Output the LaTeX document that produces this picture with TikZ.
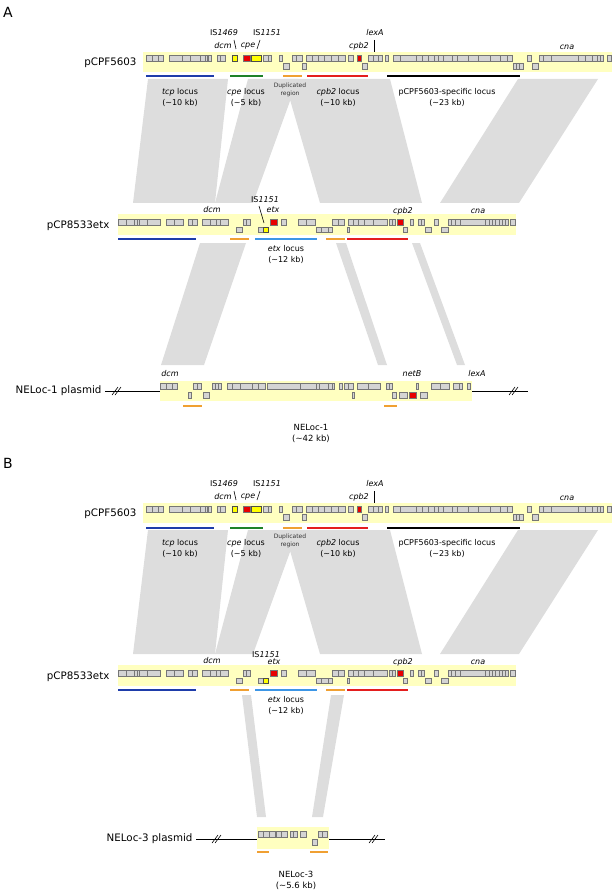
\documentclass[tikz,border=0pt]{standalone}
\usepackage{fontspec}
\setmainfont{DejaVu Sans}
\definecolor{bandyellow}{RGB}{255,255,192}
\definecolor{genegray}{RGB}{212,212,212}
\definecolor{geneline}{RGB}{118,118,118}
\definecolor{ribbon}{RGB}{221,221,221}
\definecolor{locblue}{RGB}{30,60,170}
\definecolor{locgreen}{RGB}{30,130,40}
\definecolor{locorange}{RGB}{240,160,50}
\definecolor{locred}{RGB}{228,30,30}
\definecolor{loclight}{RGB}{60,150,230}
\definecolor{toxred}{RGB}{232,0,0}
\definecolor{isyellow}{RGB}{255,255,0}

\begin{document}
\begin{tikzpicture}[x=1pt,y=-1pt]
\tikzset{band/.style={fill=bandyellow, inner sep=0pt},
  gene/.style={fill=genegray, draw=geneline, line width=0.4pt},
  toxgene/.style={fill=toxred, draw=geneline, line width=0.4pt},
  isgene/.style={fill=isyellow, draw=black!70, line width=0.4pt},
  homol/.style={fill=ribbon},
  locbar/.style={line width=2pt},
  plname/.style={anchor=east, font=\fontsize{10.3}{12}\selectfont},
  genename/.style={inner sep=1pt, font=\fontsize{8}{9}\selectfont\itshape},
  isname/.style={inner sep=1pt, font=\fontsize{8}{9}\selectfont},
  loclabel/.style={align=center, font=\fontsize{8}{11}\selectfont},
  duplabel/.style={align=center, text=black!80, font=\fontsize{6}{8}\selectfont},
  panel/.style={font=\fontsize{14}{16}\selectfont},
  tick/.style={line width=0.6pt},
  backbone/.style={line width=0.6pt}}
\useasboundingbox (0,0) rectangle (615,893);

\node[panel] (labA) at (8,12) {A};
\node[panel] (labB) at (8,463) {B};

% the two upper plasmids, same in both panels
\foreach \p/\dy in {A/0,B/451}{
\begin{scope}[shift={(0,\dy)}]
% homology
\fill[homol] (148,79) -- (228,79) -- (215,203) -- (133,203) -- cycle;
\fill[homol] (248,79) -- (298,79) -- (253,203) -- (215,203) -- cycle;
\fill[homol] (284,79) -- (390,79) -- (422,203) -- (320,203) -- cycle;
\fill[homol] (518,79) -- (598,79) -- (519,203) -- (440,203) -- cycle;

% pCPF5603
\node[band, minimum width=469pt, minimum height=20pt] (cpf\p) at (377.5,62) {};
\node[plname] (cpfname\p) at (140,63) {pCPF5603};
\foreach \a/\b in {146/152,152/158,158/163,169/182,182/190,190/200,200/205,205/207,208/211,
  217/220,220/225,263/268,268/271,279/282,292/296,296/302,306/312,312/318,318/324,324/331,
  331/338,338/345,348/353,368/373,373/378,378/382,385/388,393/400,400/416,416/422,422/428,
  428/434,434/438,438/443,443/452,452/457,457/468,468/478,478/490,490/500,500/507,507/512,
  527/531,539/543,543/551,551/578,578/585,585/592,592/597,597/600,600/603,607/611}
  \draw[gene] (\a,55) rectangle (\b,61);
\foreach \a/\b in {283/289,302/306,362/367,513/516,516/519,519/523,532/538}
  \draw[gene] (\a,63) rectangle (\b,69);
\draw[toxgene] (243,55) rectangle (250,61);
\draw[toxgene] (357,55) rectangle (361,61);
\draw[isgene] (232,55) rectangle (237,61);
\draw[isgene] (251,55) rectangle (261,61);
\node[isname] (is1469\p) at (224,33) {IS\textit{1469}};
\node[isname] (is1151\p) at (267,33) {IS\textit{1151}};
\node[genename] (dcm\p) at (223,46) {dcm};
\node[genename] (cpe\p) at (248,46) {cpe};
\node[genename] (lexa\p) at (375,33) {lexA};
\node[genename] (cpbii\p) at (359,46) {cpb2};
\node[genename] (cna\p) at (567,47) {cna};
\coordinate (t1a\p) at (234,40);
\coordinate (t1b\p) at (236,49);
\coordinate (t2a\p) at (260,40);
\coordinate (t2b\p) at (257,49);
\coordinate (t3a\p) at (374,40);
\coordinate (t3b\p) at (374,52);
\draw[tick] (t1a\p) -- (t1b\p);
\draw[tick] (t2a\p) -- (t2b\p);
\draw[tick] (t3a\p) -- (t3b\p);
\draw[locbar, locblue] (146,76.5) -- (214,76.5);
\draw[locbar, locgreen] (230,76.5) -- (263,76.5);
\draw[locbar, locorange] (283,76.5) -- (302,76.5);
\draw[locbar, locred] (307,76.5) -- (368,76.5);
\draw[locbar, black] (387,76.5) -- (520,76.5);
\node[loclabel] (tcploc\p) at (180,97.5) {\textit{tcp} locus\\(\textasciitilde10 kb)};
\node[loclabel] (cpeloc\p) at (246,97.5) {\textit{cpe} locus\\(\textasciitilde5 kb)};
\node[duplabel] (duploc\p) at (290,90) {Duplicated\\region};
\node[loclabel] (cpbloc\p) at (338,97.5) {\textit{cpb2} locus\\(\textasciitilde10 kb)};
\node[loclabel] (specloc\p) at (447,97.5) {pCPF5603-specific locus\\(\textasciitilde23 kb)};

% pCP8533etx
\node[band, minimum width=398pt, minimum height=21pt] (etxp\p) at (317,224.5) {};
\node[plname] (etxname\p) at (113,226) {pCP8533etx};
\foreach \a/\b in {118/126,126/134,134/137,137/139,139/147,147/160,166/174,174/183,188/192,
  192/197,202/210,210/216,216/220,220/228,243/246,246/250,281/286,298/306,306/315,332/338,
  338/344,348/353,353/358,358/364,364/373,373/387,389/392,392/395,410/413,418/421,421/424,
  434/438,448/451,451/455,455/460,460/485,485/489,489/492,492/495,495/499,499/502,502/505,
  505/508,510/515}
  \draw[gene] (\a,219) rectangle (\b,225);
\foreach \a/\b in {236/242,258/263,316/321,321/328,328/332,347/349,403/407,425/431,441/448}
  \draw[gene] (\a,227) rectangle (\b,232);
\draw[toxgene] (270,219) rectangle (277,225);
\draw[toxgene] (397,219) rectangle (403,225);
\draw[isgene] (263,227) rectangle (268,232);
\node[genename] (dcmb\p) at (212,210) {dcm};
\node[genename] (cpbiib\p) at (403,211) {cpb2};
\node[genename] (cnab\p) at (478,211) {cna};
\draw[locbar, locblue] (118,239) -- (196,239);
\draw[locbar, locorange] (230,239) -- (249,239);
\draw[locbar, loclight] (255,239) -- (317,239);
\draw[locbar, locorange] (326,239) -- (345,239);
\draw[locbar, locred] (347,239) -- (408,239);
\node[loclabel] (etxloc\p) at (286,254.5) {\textit{etx} locus\\(\textasciitilde12 kb)};
\end{scope}
}

% panel A: IS1151 near etx
\node[isname] (is1151bA) at (265,200) {IS\textit{1151}};
\node[genename] (etxA) at (273,210) {etx};
\coordinate (t4a) at (259,206);
\coordinate (t4b) at (264,223);
\draw[tick] (t4a) -- (t4b);

% panel A: NELoc-1
\fill[homol] (200,243) -- (246,243) -- (204,365) -- (161,365) -- cycle;
\fill[homol] (336,243) -- (346,243) -- (387,365) -- (378,365) -- cycle;
\fill[homol] (412,243) -- (420,243) -- (465,365) -- (457,365) -- cycle;
\node[band, minimum width=312pt, minimum height=20pt] (nelI) at (316,391) {};
\node[plname] (nelIname) at (105,391) {NELoc-1 plasmid};
\coordinate (nelIend) at (528,391);
\draw[backbone] (nelIname.east) -- (nelI.west);
\draw[backbone] (nelI.east) -- (nelIend);
\draw[backbone] (112,395) -- (118,387) (115,395) -- (121,387);
\draw[backbone] (509,395) -- (515,387) (512,395) -- (518,387);
\foreach \a/\b in {160/166,166/172,172/177,193/197,197/201,212/215,215/218,218/221,227/232,
  232/240,240/252,252/258,258/265,267/300,300/316,316/319,319/328,328/332,332/334,339/342,
  344/348,348/353,357/368,368/380,386/389,389/392,416/418,431/440,440/449,453/459,459/462,
  467/470}
  \draw[gene] (\a,383) rectangle (\b,389);
\foreach \a/\b in {188/191,203/209,352/354,392/396,399/407,420/427}
  \draw[gene] (\a,392) rectangle (\b,398);
\draw[toxgene] (409,392) rectangle (416,398);
\node[genename] (dcmc) at (170,374) {dcm};
\node[genename] (netb) at (412,374) {netB};
\node[genename] (lexac) at (477,374) {lexA};
\draw[locbar, locorange] (183,406) -- (202,406);
\draw[locbar, locorange] (384,406) -- (397,406);
\node[loclabel, font=\fontsize{8.5}{11}\selectfont] (nelIloc) at (311,433) {NELoc-1\\(\textasciitilde42 kb)};

% panel B: IS1151 near etx
\node[isname] (is1151bB) at (266,655) {IS\textit{1151}};
\node[genename] (etxB) at (274,662) {etx};

% panel B: NELoc-3
\fill[homol] (242,695) -- (251,695) -- (266,817) -- (257,817) -- cycle;
\fill[homol] (331,695) -- (344,695) -- (323,817) -- (312,817) -- cycle;
\node[band, minimum width=72pt, minimum height=22pt] (nelIII) at (293,838) {};
\node[plname] (nelIIIname) at (196,839) {NELoc-3 plasmid};
\coordinate (nelIIIend) at (385,839);
\draw[backbone] (nelIIIname.east) -- (nelIII.west |- nelIIIname.east);
\draw[backbone] (nelIII.east |- nelIIIend) -- (nelIIIend);
\draw[backbone] (212,843) -- (218,835) (215,843) -- (221,835);
\draw[backbone] (369,843) -- (375,835) (372,843) -- (378,835);
\foreach \a/\b in {258/263,263/269,269/275,276/281,281/287,290/293,293/297,300/306,318/322,322/327}
  \draw[gene] (\a,831) rectangle (\b,837);
\draw[gene] (312,839) rectangle (317,845);
\draw[locbar, locorange] (257,852) -- (269,852);
\draw[locbar, locorange] (310,852) -- (328,852);
\node[loclabel, font=\fontsize{8.5}{11}\selectfont] (nelIIIloc) at (296,880.5) {NELoc-3\\(\textasciitilde5.6 kb)};
\end{tikzpicture}
\end{document}
